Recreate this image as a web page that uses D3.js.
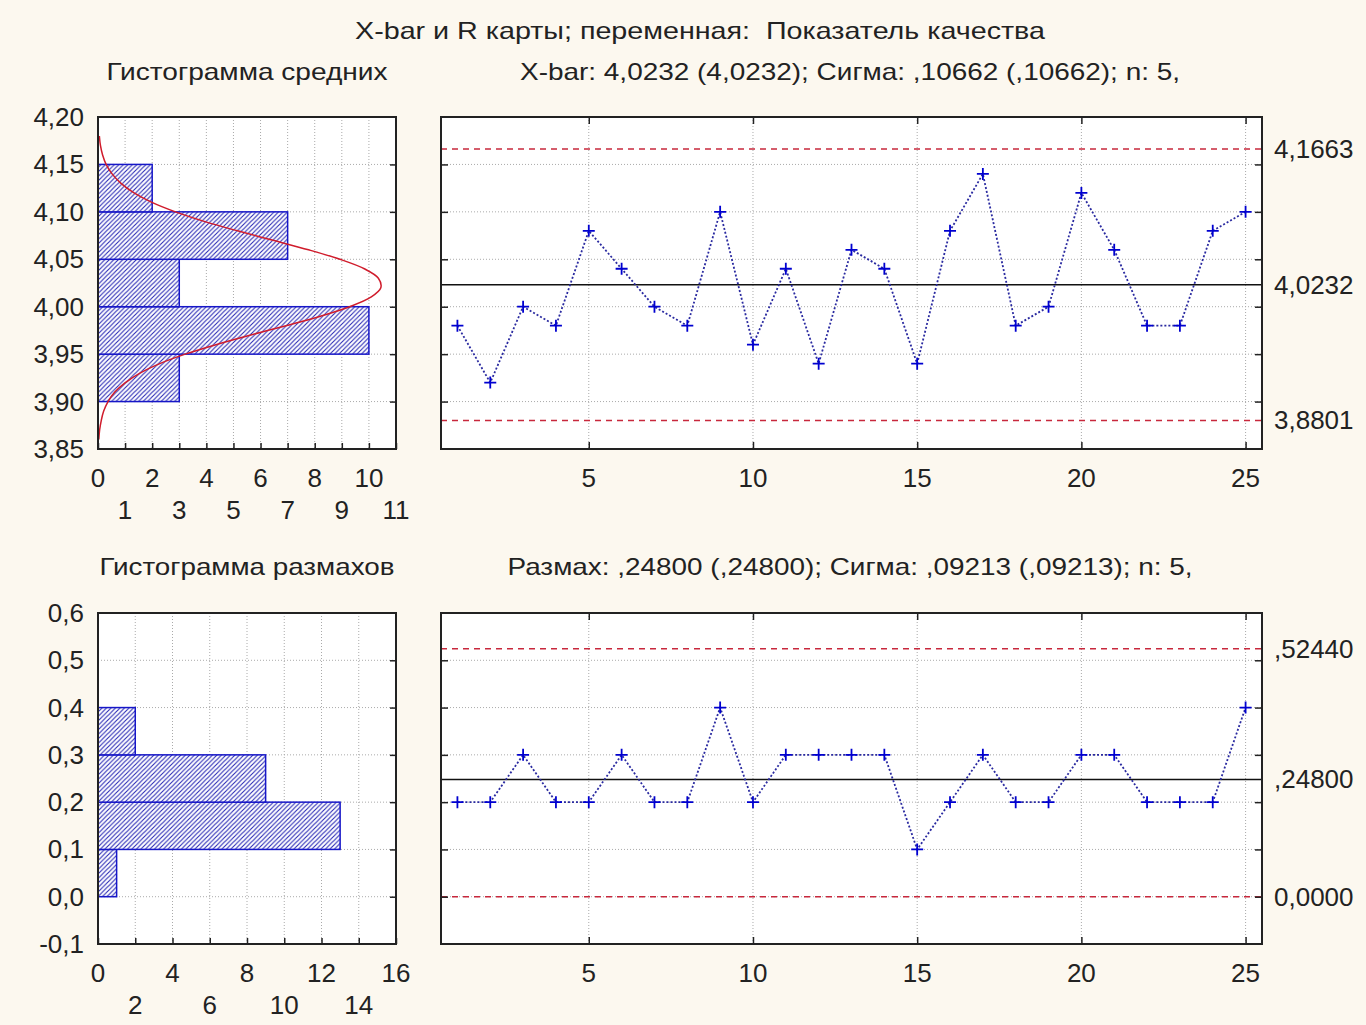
<!DOCTYPE html>
<html>
<head>
<meta charset="utf-8">
<script src="https://cdn.jsdelivr.net/npm/d3@7"></script>
<style>
  html,body{margin:0;padding:0;background:#fcf8ef;}
  text{font-family:"Liberation Sans",Arial,sans-serif;fill:#222;white-space:pre;}
</style>
</head>
<body>
<div class="maintable"></div>
<script>
// данные
var samples = d3.range(1, 26);
var xbarValues = [3.98,3.92,4.00,3.98,4.08,4.04,4.00,3.98,4.10,3.96,4.04,3.94,4.06,4.04,3.94,4.08,4.14,3.98,4.00,4.12,4.06,3.98,3.98,4.08,4.10];
var rangeValues = [0.2,0.2,0.3,0.2,0.2,0.3,0.2,0.2,0.4,0.2,0.3,0.3,0.3,0.3,0.1,0.2,0.3,0.2,0.2,0.3,0.3,0.2,0.2,0.2,0.4];

var xbarLimits = [4.1663, 4.0232, 3.8801];
var xbarLimitLabels = ["4,1663", "4,0232", "3,8801"];
var rangeLimits = [0.5244, 0.248, 0.0];
var rangeLimitLabels = [",52440", ",24800", "0,0000"];

// гистограмма средних: границы интервалов и частоты
var xbarBins = [[3.90,3.95],[3.95,4.00],[4.00,4.05],[4.05,4.10],[4.10,4.15]];
var xbarCounts = [3, 10, 3, 7, 2];
// нормальная кривая
var curveY = [3.86,3.87,3.88,3.89,3.90,3.91,3.92,3.93,3.94,3.95,3.96,3.97,3.98,3.99,4.00,4.01,4.02,4.03,4.04,4.05,4.06,4.07,4.08,4.09,4.10,4.11,4.12,4.13,4.14,4.15,4.16,4.17,4.18];
var curveCount = [0.03,0.06,0.12,0.21,0.37,0.62,1.01,1.55,2.28,3.22,4.35,5.61,6.94,8.21,9.29,10.07,10.44,10.35,9.83,8.93,7.77,6.46,5.15,3.92,2.86,1.99,1.33,0.85,0.52,0.30,0.17,0.09,0.05];

// гистограмма размахов
var rangeBins = [[0.0,0.1],[0.1,0.2],[0.2,0.3],[0.3,0.4]];
var rangeCounts = [1, 13, 9, 2];

var xbarYTicks = [3.85,3.90,3.95,4.00,4.05,4.10,4.15,4.20];
var rangeYTicks = [-0.1,0.0,0.1,0.2,0.3,0.4,0.5,0.6];
var sampleTicks = [5,10,15,20,25];

var titleMain = "X-bar и R карты; переменная:  Показатель качества";
var titleHistTop = "Гистограмма средних";
var titleChartTop = "X-bar: 4,0232 (4,0232); Сигма: ,10662 (,10662); n: 5,";
var titleHistBot = "Гистограмма размахов";
var titleChartBot = "Размах: ,24800 (,24800); Сигма: ,09213 (,09213); n: 5,";

var FS = 26;   // подписи осей
var TFS = 24;  // заголовки

var loc = d3.formatLocale({decimal:",", thousands:" ", grouping:[3], currency:["",""], minus:"-"});
var f2 = loc.format(".2f"), f1 = loc.format(".1f");

var svg = d3.select(".maintable").append("svg")
  .attr("width", 1366).attr("height", 1025);

svg.append("rect").attr("width",1366).attr("height",1025).attr("fill","#fcf8ef");

var defs = svg.append("defs");
defs.append("pattern")
  .attr("id","hatch").attr("patternUnits","userSpaceOnUse")
  .attr("width",4.5).attr("height",4.5)
  .each(function(){
    d3.select(this).append("rect").attr("width",4.5).attr("height",4.5).attr("fill","#fff");
    d3.select(this).append("path")
      .attr("d","M-1,1 l2,-2 M0,4.5 l4.5,-4.5 M3.5,5.5 l2,-2")
      .attr("stroke","#2626b4").attr("stroke-width",1.1);
  });

function label(g, x, y, txt, anchor, size, len){
  var t = g.append("text")
    .attr("x", x).attr("y", y)
    .attr("text-anchor", anchor || "middle")
    .attr("dominant-baseline","central")
    .attr("font-size", (size || FS) + "px")
    .text(txt);
  if(len){
    t.attr("textLength", len).attr("lengthAdjust","spacingAndGlyphs");
  }
  return t;
}

// заголовки
label(svg, 700, 30, titleMain, "middle", TFS, 690);
label(svg, 247, 71, titleHistTop, "middle", TFS, 281);
label(svg, 850, 71, titleChartTop, "middle", TFS, 660);
label(svg, 247, 566, titleHistBot, "middle", TFS, 295);
label(svg, 850, 566, titleChartBot, "middle", TFS, 685);

function gridDots(g, lines){
  g.selectAll(null).data(lines).enter().append("line")
    .attr("x1",function(d){return d[0];}).attr("y1",function(d){return d[1];})
    .attr("x2",function(d){return d[2];}).attr("y2",function(d){return d[3];})
    .attr("stroke","#aaaaaa").attr("stroke-width",1).attr("stroke-dasharray","1,2");
}

function frame(g, box){
  g.append("rect")
    .attr("x",box.x0).attr("y",box.y0)
    .attr("width",box.x1-box.x0).attr("height",box.y1-box.y0)
    .attr("fill","#fff");
}
function border(g, box){
  g.append("rect")
    .attr("x",box.x0).attr("y",box.y0)
    .attr("width",box.x1-box.x0).attr("height",box.y1-box.y0)
    .attr("fill","none").attr("stroke","#222").attr("stroke-width",2);
}

function tickMarks(g, axis, transform){
  var a = g.append("g").attr("transform",transform).call(axis);
  a.select(".domain").remove();
  a.selectAll(".tick line").attr("stroke","#222").attr("stroke-width",1.5);
  a.selectAll(".tick text").remove();
}

// ---------- гистограмма ----------
function histogram(opt){
  var box = opt.box;
  var g = svg.append("g");
  var x = d3.scaleLinear().domain(opt.xDomain).range([box.x0, box.x1]);
  var y = d3.scaleLinear().domain(opt.yDomain).range([box.y1, box.y0]);
  frame(g, box);

  var vl = opt.xGrid.map(function(v){return [x(v),box.y0,x(v),box.y1];});
  var hl = opt.yTicks.slice(1,-1).map(function(v){return [box.x0,y(v),box.x1,y(v)];});
  gridDots(g, vl.concat(hl));

  g.selectAll(null).data(opt.bins).enter().append("rect")
    .attr("x", x(0))
    .attr("y", function(d){return y(d[1]);})
    .attr("height", function(d){return y(d[0]) - y(d[1]);})
    .attr("width", function(d,i){return x(opt.counts[i]) - x(0);})
    .attr("fill","url(#hatch)")
    .attr("stroke","#1616c8").attr("stroke-width",1.5);

  if(opt.curve){
    var line = d3.line()
      .x(function(d,i){return x(opt.curve[1][i]);})
      .y(function(d){return y(d);})
      .curve(d3.curveCatmullRom);
    g.append("path").datum(opt.curve[0])
      .attr("d", line).attr("fill","none")
      .attr("stroke","#d01c2c").attr("stroke-width",1.5);
  }

  border(g, box);
  tickMarks(g, d3.axisBottom(x).tickValues(opt.xTicks).tickSize(-6), "translate(0,"+box.y1+")");
  tickMarks(g, d3.axisRight(y).tickValues(opt.yTicks.slice(1,-1)).tickSize(-6), "translate("+box.x1+",0)");

  opt.yTicks.forEach(function(v){
    label(g, box.x0 - 14, y(v), opt.yFmt(v), "end");
  });
  opt.xTicks.forEach(function(v){
    var row = (v / opt.labelEvery) % 2;
    label(g, x(v), box.y1 + 29 + row * 32, String(v));
  });
}

histogram({
  box:{x0:98,x1:396,y0:117,y1:449},
  xDomain:[0,11], yDomain:[3.85,4.20],
  xTicks:d3.range(0,12), xGrid:d3.range(1,11), labelEvery:1,
  yTicks:xbarYTicks, yFmt:f2,
  bins:xbarBins, counts:xbarCounts,
  curve:[curveY, curveCount]
});

histogram({
  box:{x0:98,x1:396,y0:613,y1:944},
  xDomain:[0,16], yDomain:[-0.1,0.6],
  xTicks:d3.range(0,17,2), xGrid:d3.range(2,16,2), labelEvery:2,
  yTicks:rangeYTicks, yFmt:f1,
  bins:rangeBins, counts:rangeCounts
});

// ---------- контрольная карта ----------
function controlChart(opt){
  var box = opt.box;
  var g = svg.append("g");
  var x = d3.scaleLinear().domain([0.5, 25.5]).range([box.x0, box.x1]);
  var y = d3.scaleLinear().domain(opt.yDomain).range([box.y1, box.y0]);
  frame(g, box);

  var vl = sampleTicks.map(function(v){return [x(v),box.y0,x(v),box.y1];});
  var hl = opt.yTicks.slice(1,-1).map(function(v){return [box.x0,y(v),box.x1,y(v)];});
  gridDots(g, vl.concat(hl));

  // пределы
  g.selectAll(null).data(opt.limits).enter().append("line")
    .attr("x1",box.x0).attr("x2",box.x1)
    .attr("y1",function(d){return y(d);}).attr("y2",function(d){return y(d);})
    .attr("stroke",function(d,i){return i === 1 ? "#111" : "#c8283c";})
    .attr("stroke-width",1.5)
    .attr("stroke-dasharray",function(d,i){return i === 1 ? null : "6,5";});

  var line = d3.line()
    .x(function(d,i){return x(samples[i]);})
    .y(function(d){return y(d);});
  g.append("path").datum(opt.values)
    .attr("d", line).attr("fill","none")
    .attr("stroke","#2a2aa0").attr("stroke-width",1.8)
    .attr("stroke-dasharray","2,2");

  var m = 6;
  g.selectAll(null).data(opt.values).enter().append("path")
    .attr("d",function(d,i){
      var px = x(samples[i]), py = y(d);
      return "M"+(px-m)+","+py+"H"+(px+m)+"M"+px+","+(py-m)+"V"+(py+m);
    })
    .attr("stroke","#0000d0").attr("stroke-width",1.8);

  border(g, box);
  var ti = opt.yTicks.slice(1,-1);
  tickMarks(g, d3.axisBottom(x).tickValues(sampleTicks).tickSize(-7), "translate(0,"+box.y1+")");
  tickMarks(g, d3.axisTop(x).tickValues(sampleTicks).tickSize(-7), "translate(0,"+box.y0+")");
  tickMarks(g, d3.axisLeft(y).tickValues(ti).tickSize(-7), "translate("+box.x0+",0)");
  tickMarks(g, d3.axisRight(y).tickValues(ti).tickSize(-7), "translate("+box.x1+",0)");

  sampleTicks.forEach(function(v){
    label(g, x(v), box.y1 + 29, String(v));
  });
  opt.limits.forEach(function(v, i){
    label(g, box.x1 + 12, y(v), opt.limitLabels[i], "start");
  });
}

controlChart({
  box:{x0:441,x1:1262,y0:117,y1:449},
  yDomain:[3.85,4.20], yTicks:xbarYTicks,
  values:xbarValues, limits:xbarLimits, limitLabels:xbarLimitLabels
});

controlChart({
  box:{x0:441,x1:1262,y0:613,y1:944},
  yDomain:[-0.1,0.6], yTicks:rangeYTicks,
  values:rangeValues, limits:rangeLimits, limitLabels:rangeLimitLabels
});
</script>
</body>
</html>
